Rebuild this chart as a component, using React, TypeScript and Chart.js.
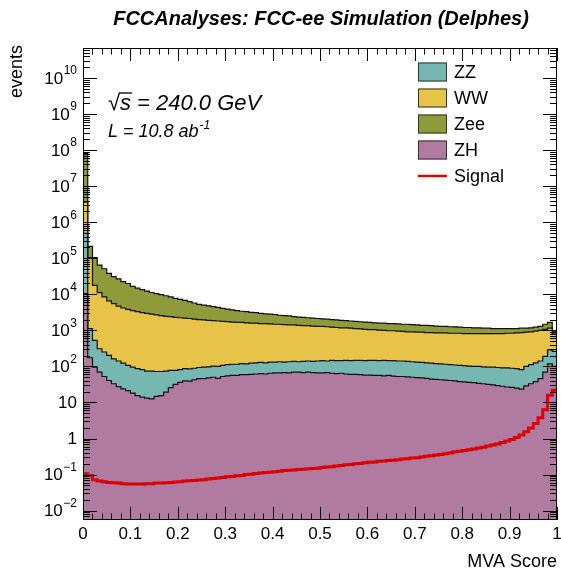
import React, { useEffect, useRef } from 'react';
import { Chart, registerables } from 'chart.js';

Chart.register(...registerables);

// ---- Data (100 bins of width 0.01 on MVA score 0..1) ----
const NBINS = 100;
const BIN_WIDTH = 0.01;
const binLowEdges = Array.from({ length: NBINS + 1 }, (_, i) => +(i * BIN_WIDTH).toFixed(2));

const zh = [
  10500, 174, 95.5, 69.2, 52.5, 40.7, 33.1, 27.5, 24.0, 21.4,
  18.2, 15.5, 14.1, 13.2, 12.6, 14.8, 15.5, 19.5, 25.7, 31.6,
  36.3, 39.8, 38.9, 42.7, 45.7, 45.7, 47.9, 50.1, 46.8, 52.5,
  55.0, 56.2, 56.2, 58.9, 58.9, 60.3, 61.7, 63.1, 61.7, 64.6,
  66.1, 66.1, 67.6, 66.1, 69.2, 69.2, 67.6, 69.2, 67.6, 66.1,
  66.1, 67.6, 64.6, 63.1, 64.6, 61.7, 60.3, 60.3, 58.9, 57.5,
  57.5, 56.2, 56.2, 55.0, 56.2, 53.7, 52.5, 52.5, 51.3, 50.1,
  49.0, 47.9, 46.8, 44.7, 43.7, 42.7, 41.7, 40.7, 39.8, 38.0,
  37.2, 36.3, 35.5, 33.9, 33.1, 31.6, 30.9, 29.5, 28.2, 26.9,
  26.3, 25.1, 23.4, 28.8, 33.1, 38.0, 45.7, 69.2, 117.5, 100,
];

const zz = [
  479500, 948, 430, 240, 199, 163, 129, 114, 99.0, 85.6,
  77.3, 71.6, 67.2, 60.9, 61.5, 57.6, 56.9, 54.6, 51.9, 46.0,
  45.0, 47.3, 46.2, 46.4, 47.6, 49.8, 49.8, 52.2, 53.2, 54.7,
  57.2, 58.6, 58.6, 61.3, 58.6, 62.7, 64.2, 65.7, 64.2, 67.2,
  65.7, 68.8, 64.2, 68.8, 68.8, 65.7, 70.4, 72.1, 70.4, 75.2,
  78.4, 73.7, 83.3, 81.4, 79.9, 86.2, 84.2, 87.6, 89.0, 87.0,
  90.4, 91.7, 88.3, 92.9, 88.3, 90.8, 88.8, 88.8, 86.7, 84.8,
  82.8, 80.9, 79.1, 78.3, 76.5, 74.8, 73.1, 71.5, 69.8, 69.2,
  67.5, 66.0, 64.5, 66.1, 64.6, 63.9, 64.6, 63.8, 63.0, 64.3,
  62.8, 62.0, 57.9, 71.2, 79.1, 87.9, 95.6, 121, 171, 163,
];

const ww = [
  3141000, 103600, 17260, 10910, 8260, 6400, 5330, 4540, 4050, 3695,
  3452, 3224, 3009, 2877, 2744, 2620, 2498, 2381, 2321, 2213,
  2158, 2101, 2053, 1953, 1902, 1854, 1807, 1760, 1720, 1671,
  1626, 1583, 1545, 1540, 1504, 1462, 1459, 1420, 1423, 1382,
  1347, 1344, 1313, 1278, 1275, 1245, 1211, 1208, 1180, 1147,
  1143, 1118, 1082, 1057, 1030, 1027, 1003, 974, 948, 927,
  899, 899, 878, 852, 832, 832, 814, 792, 774, 777,
  759, 762, 745, 748, 731, 733, 736, 720, 722, 725,
  708, 711, 713, 713, 715, 717, 717, 720, 722, 741,
  743, 764, 790, 791, 800, 829, 859, 881, 860, 531,
];

const zee = [
  75800000, 109100, 86930, 53350, 42780, 31410, 25410, 22240, 18220, 16150,
  13050, 11480, 10400, 9352, 8402, 7779, 7202, 6665, 6112, 5471,
  5005, 4573, 4172, 3712, 3253, 3062, 2881, 2709, 2545, 2296,
  2152, 2017, 1888, 1728, 1689, 1577, 1505, 1402, 1335, 1304,
  1275, 1151, 1125, 1099, 986, 964, 942, 890, 870, 850,
  801, 783, 765, 748, 730, 687, 672, 656, 642, 626,
  613, 575, 562, 585, 572, 572, 559, 546, 567, 533,
  522, 489, 509, 478, 467, 437, 437, 427, 427, 398,
  389, 389, 362, 362, 335, 335, 309, 309, 309, 290,
  290, 271, 277, 257, 263, 275, 288, 407, 512, 118,
];

const signal = [
  0.105, 0.095, 0.072, 0.066, 0.063, 0.060, 0.059, 0.058, 0.056, 0.055,
  0.055, 0.055, 0.055, 0.056, 0.056, 0.058, 0.058, 0.059, 0.060, 0.062,
  0.063, 0.066, 0.068, 0.069, 0.071, 0.072, 0.076, 0.078, 0.081, 0.083,
  0.087, 0.089, 0.093, 0.095, 0.100, 0.102, 0.107, 0.110, 0.115, 0.117,
  0.120, 0.123, 0.129, 0.132, 0.135, 0.138, 0.141, 0.145, 0.148, 0.151,
  0.158, 0.162, 0.166, 0.174, 0.178, 0.186, 0.191, 0.200, 0.204, 0.214,
  0.219, 0.224, 0.234, 0.240, 0.245, 0.251, 0.257, 0.269, 0.275, 0.288,
  0.295, 0.309, 0.324, 0.331, 0.347, 0.363, 0.380, 0.398, 0.427, 0.447,
  0.468, 0.490, 0.513, 0.550, 0.575, 0.617, 0.661, 0.708, 0.776, 0.851,
  0.933, 1.07, 1.26, 1.55, 1.95, 2.63, 3.80, 6.31, 15.8, 21.9,
];

const xTickLabels = ['0', '0.1', '0.2', '0.3', '0.4', '0.5', '0.6', '0.7', '0.8', '0.9', '1'];
const yDecades = [-2, -1, 0, 1, 2, 3, 4, 5, 6, 7, 8, 9, 10];
const Y_MIN = 0.0055;
const Y_MAX = 6.8e10;

const COLORS = {
  ZZ: '#76B7B2',
  WW: '#E8C34A',
  Zee: '#8F9A3B',
  ZH: '#B07AA1',
  Signal: '#DD0000',
};

const legendEntries = [
  { label: 'ZZ', color: COLORS.ZZ, kind: 'box' },
  { label: 'WW', color: COLORS.WW, kind: 'box' },
  { label: 'Zee', color: COLORS.Zee, kind: 'box' },
  { label: 'ZH', color: COLORS.ZH, kind: 'box' },
  { label: 'Signal', color: COLORS.Signal, kind: 'line' },
];

const FONT = '"Liberation Sans", Arial, Helvetica, sans-serif';

function histPoints(values: number[]) {
  // step histogram: value of bin k spans [edge_k, edge_k+1]
  const pts = values.map((v, i) => ({ x: binLowEdges[i], y: v }));
  pts.push({ x: binLowEdges[NBINS], y: values[NBINS - 1] });
  return pts;
}

function cumulative(...series: number[][]) {
  return series[0].map((_, i) => series.reduce((s, arr) => s + arr[i], 0));
}

const rootStylePlugin = {
  id: 'rootStyle',
  afterDatasetsDraw(chart: any) {
    const { ctx, chartArea: a, scales } = chart;
    const xs = scales.x;
    const ys = scales.y;
    ctx.save();
    ctx.strokeStyle = '#000';
    ctx.lineWidth = 1;

    // x ticks (bottom and top), inside the frame
    for (let i = 0; i <= 50; i++) {
      const v = i * 0.02;
      const px = Math.round(xs.getPixelForValue(v)) + 0.5;
      const major = i % 5 === 0;
      const len = major ? 13 : 6.5;
      ctx.beginPath();
      ctx.moveTo(px, a.bottom);
      ctx.lineTo(px, a.bottom - len);
      ctx.moveTo(px, a.top);
      ctx.lineTo(px, a.top + len);
      ctx.stroke();
    }
    // y ticks (left and right), log
    for (let e = -3; e <= 11; e++) {
      for (let m = 1; m <= 9; m++) {
        const v = m * Math.pow(10, e);
        if (v < Y_MIN || v > Y_MAX) continue;
        const py = Math.round(ys.getPixelForValue(v)) + 0.5;
        const len = m === 1 ? 14 : 7;
        ctx.beginPath();
        ctx.moveTo(a.left, py);
        ctx.lineTo(a.left + len, py);
        ctx.moveTo(a.right, py);
        ctx.lineTo(a.right - len, py);
        ctx.stroke();
      }
    }
    // frame
    ctx.strokeRect(a.left + 0.5, a.top + 0.5, a.right - a.left - 1, a.bottom - a.top - 1);

    ctx.fillStyle = '#000';
    // x tick labels
    ctx.font = `17px ${FONT}`;
    ctx.textAlign = 'center';
    ctx.textBaseline = 'alphabetic';
    xTickLabels.forEach((lab) => {
      const px = xs.getPixelForValue(parseFloat(lab));
      ctx.fillText(lab, px, 539);
    });

    // y tick labels
    const labRight = 77;
    yDecades.forEach((d) => {
      const py = ys.getPixelForValue(Math.pow(10, d));
      ctx.textBaseline = 'middle';
      ctx.textAlign = 'right';
      if (d === 0 || d === 1) {
        ctx.font = `17px ${FONT}`;
        ctx.fillText(d === 0 ? '1' : '10', labRight, py + 1);
      } else {
        const sup = d < 0 ? '\u2212' + String(-d) : String(d);
        ctx.font = `12px ${FONT}`;
        const sw = ctx.measureText(sup).width;
        ctx.fillText(sup, labRight, py - 7);
        ctx.font = `17px ${FONT}`;
        ctx.fillText('10', labRight - sw - 0.5, py + 1);
      }
    });

    // title
    ctx.textBaseline = 'alphabetic';
    ctx.textAlign = 'center';
    ctx.font = `italic bold 20px ${FONT}`;
    ctx.fillText('FCCAnalyses: FCC-ee Simulation (Delphes)', 321, 25);

    // axis titles
    ctx.font = `18px ${FONT}`;
    ctx.textAlign = 'right';
    ctx.fillText('MVA Score', 557, 567);
    ctx.save();
    ctx.translate(22, 45);
    ctx.rotate(-Math.PI / 2);
    ctx.textAlign = 'right';
    ctx.fillText('events', 0, 0);
    ctx.restore();

    // sqrt(s) text
    ctx.textAlign = 'left';
    ctx.font = `italic 22px ${FONT}`;
    ctx.fillText('\u221A', 108, 110);
    const rw = ctx.measureText('\u221A').width;
    ctx.fillText('s', 108 + rw, 110);
    const sw2 = ctx.measureText('s').width;
    ctx.beginPath();
    ctx.lineWidth = 1.3;
    ctx.moveTo(108 + rw - 1, 93);
    ctx.lineTo(108 + rw + sw2 + 1, 93);
    ctx.stroke();
    ctx.fillText('= 240.0 GeV', 137, 110);

    // luminosity text
    ctx.font = `italic 18px ${FONT}`;
    ctx.fillText('L = 10.8 ab', 108, 137);
    const lw = ctx.measureText('L = 10.8 ab').width;
    ctx.font = `italic 12px ${FONT}`;
    ctx.fillText('-1', 108 + lw + 1, 129);

    // legend
    let cy = 72;
    legendEntries.forEach((ent) => {
      if (ent.kind === 'box') {
        ctx.fillStyle = ent.color;
        ctx.fillRect(418, cy - 9.5, 29, 19);
        ctx.strokeStyle = '#333';
        ctx.lineWidth = 1;
        ctx.strokeRect(418.5, cy - 9, 28, 18);
      } else {
        ctx.strokeStyle = ent.color;
        ctx.lineWidth = 2.5;
        ctx.beginPath();
        ctx.moveTo(418, cy);
        ctx.lineTo(447, cy);
        ctx.stroke();
      }
      ctx.fillStyle = '#000';
      ctx.font = `18px ${FONT}`;
      ctx.textAlign = 'left';
      ctx.textBaseline = 'middle';
      ctx.fillText(ent.label, 454, cy + 1);
      cy += 26;
    });

    ctx.restore();
  },
};

export default function App() {
  const canvasRef = useRef<HTMLCanvasElement | null>(null);

  useEffect(() => {
    const canvas = canvasRef.current;
    if (!canvas) return;
    const cumZH = cumulative(zh);
    const cumZZ = cumulative(zh, zz);
    const cumWW = cumulative(zh, zz, ww);
    const cumZee = cumulative(zh, zz, ww, zee);

    const histDs = (label: string, values: number[], color: string, order: number) => ({
      label,
      data: histPoints(values),
      stepped: true,
      fill: 'start',
      backgroundColor: color,
      borderColor: '#111',
      borderWidth: 1.2,
      pointRadius: 0,
      order,
    });

    const chart = new Chart(canvas, {
      type: 'line',
      data: {
        datasets: [
          {
            label: 'Signal',
            data: histPoints(signal),
            stepped: true,
            fill: false,
            borderColor: COLORS.Signal,
            borderWidth: 3,
            pointRadius: 0,
            order: 0,
          },
          histDs('ZH', cumZH, COLORS.ZH, 1),
          histDs('ZZ', cumZZ, COLORS.ZZ, 2),
          histDs('WW', cumWW, COLORS.WW, 3),
          histDs('Zee', cumZee, COLORS.Zee, 4),
        ] as any,
      },
      options: {
        responsive: false,
        animation: false,
        layout: { padding: { left: 83, top: 48, right: 4, bottom: 56 } },
        plugins: {
          legend: { display: false },
          tooltip: { enabled: false },
          title: { display: false },
        },
        scales: {
          x: { type: 'linear', min: 0, max: 1, display: false },
          y: { type: 'logarithmic', min: Y_MIN, max: Y_MAX, display: false },
        },
      },
      plugins: [rootStylePlugin],
    });
    return () => chart.destroy();
  }, []);

  return (
    <div style={{ position: 'absolute', left: 0, top: 0, width: 561, height: 576, background: '#fff' }}>
      <canvas ref={canvasRef} width={561} height={576} style={{ width: 561, height: 576 }} />
    </div>
  );
}
